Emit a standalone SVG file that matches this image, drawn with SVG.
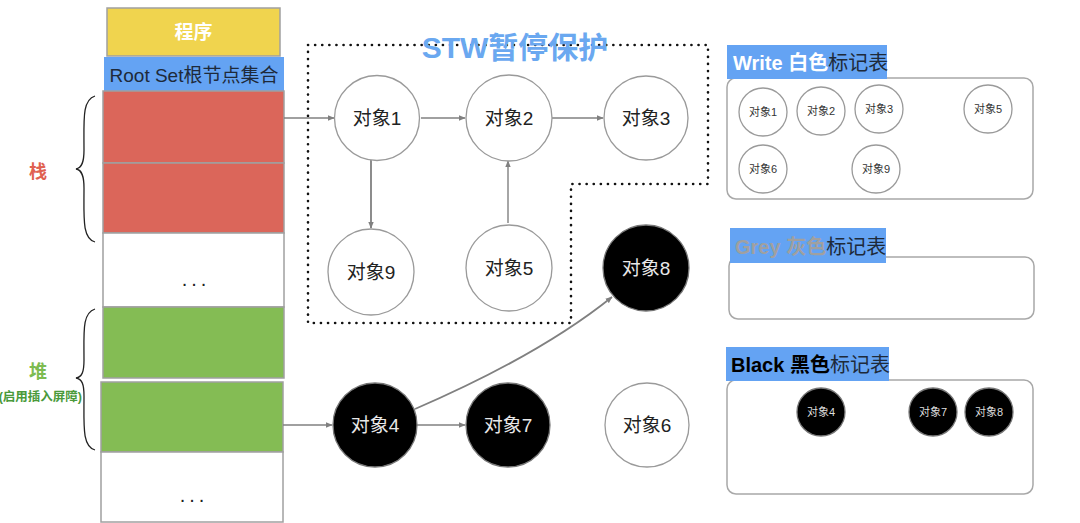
<svg xmlns="http://www.w3.org/2000/svg" width="1080" height="523" viewBox="0 0 1080 523">
<style>
text{font-family:"Liberation Sans","Noto Sans CJK SC",sans-serif;}
.box{stroke:#a0a0a0;stroke-width:1.5;}
.node{fill:#fff;stroke:#9a9a9a;stroke-width:1.3;}
.bnode{fill:#000;stroke:#777;stroke-width:1.3;}
.lbl{font-size:19px;text-anchor:middle;fill:#222;}
.blbl{font-size:19px;text-anchor:middle;fill:#e8e8e8;}
.slbl{font-size:11px;text-anchor:middle;fill:#333;}
.sblbl{font-size:11px;text-anchor:middle;fill:#ddd;}
.edge{stroke:#808080;stroke-width:1.4;fill:none;marker-end:url(#ah);}
.panel{fill:#fff;stroke:#a8a8a8;stroke-width:1.5;}
.tag{fill:#64a3f3;}
.tagt{font-size:20px;font-weight:bold;}
.brace{fill:none;stroke:#222;stroke-width:1.3;}
.dots{font-size:20px;text-anchor:middle;fill:#222;letter-spacing:4px;}
</style>
<defs>
<marker id="ah" viewBox="0 0 10 10" refX="9" refY="5" markerWidth="7" markerHeight="7" markerUnits="userSpaceOnUse" orient="auto">
<path d="M0,1 L10,5 L0,9 z" fill="#808080"/>
</marker>
</defs>
<rect width="1080" height="523" fill="#fff"/>

<g id="stack-column">
<g id="program"><rect class="box" x="107" y="8" width="173" height="48" fill="#f0d44e"/><text x="193.5" y="39" font-size="19" font-weight="bold" fill="#fff" text-anchor="middle">程序</text></g>
<g id="rootset"><rect x="104" y="57" width="180" height="34" fill="#64a3f3"/><text x="194" y="82" font-size="19" fill="#1e2a3a" text-anchor="middle">Root Set根节点集合</text></g>
<g id="stack1"><rect class="box" x="103" y="91" width="181" height="72" fill="#db665a"/></g>
<g id="stack2"><rect class="box" x="103" y="163" width="181" height="70" fill="#db665a"/></g>
<g id="gap1"><rect class="box" x="103" y="233" width="181" height="74" fill="#fff"/><text class="dots" x="196" y="286">...</text></g>
<g id="heap1"><rect class="box" x="103" y="307" width="181" height="71" fill="#84bc54"/></g>
<g id="heap2"><rect class="box" x="101" y="382" width="182" height="70" fill="#84bc54"/></g>
<g id="gap2"><rect class="box" x="101" y="452" width="182" height="70" fill="#fff"/><text class="dots" x="194" y="502">...</text></g>
</g>

<g id="stack-label">
<path class="brace" d="M95,96 C82,100 84,120 84,150 C84,162 82,168 76,169 C82,170 84,176 84,188 C84,218 82,238 95,242"/>
<text x="38" y="178" font-size="18" font-weight="bold" fill="#e06050" text-anchor="middle">栈</text>
</g>
<g id="heap-label">
<path class="brace" d="M95,309 C82,313 84,332 84,360 C84,372 82,377 76,378 C82,379 84,384 84,396 C84,426 82,446 95,450"/>
<text x="38" y="378" font-size="18" font-weight="bold" fill="#7dbb50" text-anchor="middle">堆</text>
<text x="82" y="401" font-size="12.5" font-weight="bold" fill="#4a9a3a" text-anchor="end">(启用插入屏障)</text>
</g>

<g id="stw-region">
<path d="M308,45 L708,45 L708,184 L571,184 L571,323 L308,323 Z" fill="none" stroke="#111" stroke-width="2.6" stroke-linecap="round" stroke-dasharray="0.1 7"/>
<text x="515" y="58" font-size="30" font-weight="bold" fill="#6aa8f0" text-anchor="middle">STW暂停保护</text>
</g>

<g id="connectors">
<line class="edge" x1="284" y1="118" x2="334" y2="118"/>
<line class="edge" x1="421" y1="118" x2="465" y2="118"/>
<line class="edge" x1="552" y1="118" x2="603" y2="118"/>
<line class="edge" x1="371" y1="160" x2="371" y2="228" style="stroke-width:1.8"/>
<line class="edge" x1="508" y1="223" x2="508" y2="161"/>
<line class="edge" x1="283" y1="425" x2="332" y2="425"/>
<line class="edge" x1="417" y1="425" x2="465" y2="425"/>
<path class="edge" d="M415,409 Q540,355 612,297" style="stroke-width:1.8"/>
</g>

<g id="obj1"><circle class="node" cx="377" cy="118" r="42.5"/><text class="lbl" x="377" y="125">对象1</text></g>
<g id="obj2"><circle class="node" cx="509" cy="118" r="43"/><text class="lbl" x="509" y="125">对象2</text></g>
<g id="obj3"><circle class="node" cx="646" cy="118" r="42"/><text class="lbl" x="646" y="125">对象3</text></g>
<g id="obj9"><circle class="node" cx="371" cy="272" r="43"/><text class="lbl" x="371" y="279">对象9</text></g>
<g id="obj5"><circle class="node" cx="509" cy="268" r="43"/><text class="lbl" x="509" y="275">对象5</text></g>
<g id="obj8"><circle class="bnode" cx="646" cy="268" r="43"/><text class="blbl" x="646" y="275">对象8</text></g>
<g id="obj4"><circle class="bnode" cx="375" cy="425" r="42"/><text class="blbl" x="375" y="432">对象4</text></g>
<g id="obj7"><circle class="bnode" cx="508" cy="425" r="42"/><text class="blbl" x="508" y="432">对象7</text></g>
<g id="obj6"><circle class="node" cx="647" cy="425" r="42"/><text class="lbl" x="647" y="432">对象6</text></g>

<g id="white-table">
<rect class="panel" x="727" y="78" width="306" height="121" rx="9"/>
<rect class="tag" x="727" y="45" width="160" height="34"/>
<text class="tagt" x="733" y="70"><tspan fill="#fff">Write 白色</tspan><tspan fill="#1e2a3a" font-weight="normal">标记表</tspan></text>
<circle class="node" cx="763" cy="112" r="24"/><text class="slbl" x="763" y="116">对象1</text>
<circle class="node" cx="821" cy="111" r="24"/><text class="slbl" x="821" y="115">对象2</text>
<circle class="node" cx="879" cy="109" r="24"/><text class="slbl" x="879" y="113">对象3</text>
<circle class="node" cx="988" cy="109" r="24"/><text class="slbl" x="988" y="113">对象5</text>
<circle class="node" cx="763" cy="169" r="24"/><text class="slbl" x="763" y="173">对象6</text>
<circle class="node" cx="876" cy="169" r="24"/><text class="slbl" x="876" y="173">对象9</text>
</g>

<g id="grey-table">
<rect class="panel" x="729" y="257" width="305" height="62" rx="9"/>
<rect class="tag" x="730" y="228" width="156" height="35"/>
<text class="tagt" x="735" y="254"><tspan fill="#a0a0a0">Grey 灰色</tspan><tspan fill="#1e2a3a" font-weight="normal">标记表</tspan></text>
</g>

<g id="black-table">
<rect class="panel" x="727" y="380" width="306" height="114" rx="9"/>
<rect class="tag" x="726" y="347" width="163" height="34"/>
<text class="tagt" x="731" y="372"><tspan fill="#000">Black 黑色</tspan><tspan fill="#1e2a3a" font-weight="normal">标记表</tspan></text>
<circle class="bnode" cx="821" cy="412" r="24"/><text class="sblbl" x="821" y="416">对象4</text>
<circle class="bnode" cx="933" cy="412" r="24"/><text class="sblbl" x="933" y="416">对象7</text>
<circle class="bnode" cx="989" cy="412" r="24"/><text class="sblbl" x="989" y="416">对象8</text>
</g>
</svg>
